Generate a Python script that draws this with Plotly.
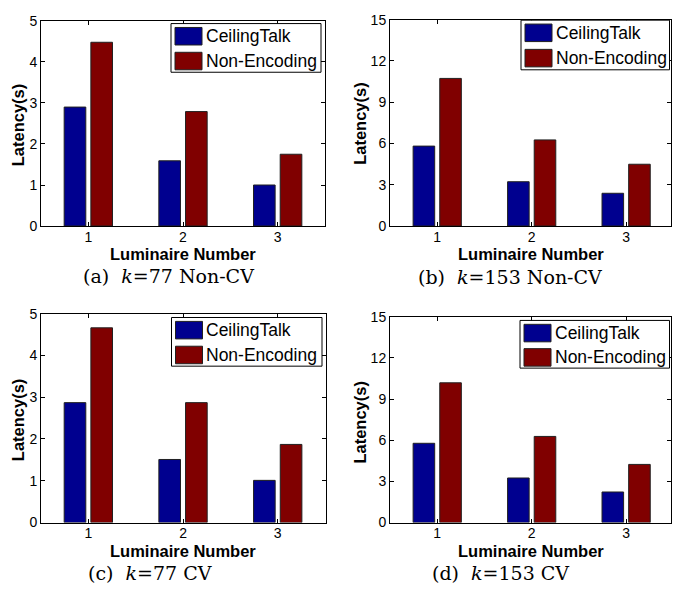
import plotly.graph_objects as go

W, H = 673, 599

luminaires = [1, 2, 3]
series_names = ["CeilingTalk", "Non-Encoding"]
series_colors = ["#00008F", "#800000"]

ct_a = [2.90, 1.59, 1.00]
ne_a = [4.48, 2.79, 1.75]
ct_b = [5.81, 3.22, 2.38]
ne_b = [10.73, 6.26, 4.49]
ct_c = [2.87, 1.51, 1.01]
ne_c = [4.66, 2.87, 1.87]
ct_d = [5.78, 3.25, 2.23]
ne_d = [10.19, 6.28, 4.24]

panel_data = [(ct_a, ne_a), (ct_b, ne_b), (ct_c, ne_c), (ct_d, ne_d)]
captions = ["(a)  <i>k</i>=77 Non-CV", "(b)  <i>k</i>=153 Non-CV",
            "(c)  <i>k</i>=77 CV", "(d)  <i>k</i>=153 CV"]
y_max = [5, 15, 5, 15]
y_ticks = [[0, 1, 2, 3, 4, 5], [0, 3, 6, 9, 12, 15],
           [0, 1, 2, 3, 4, 5], [0, 3, 6, 9, 12, 15]]
x_title = "Luminaire Number"
y_title = "Latency(s)"

# layout geometry (pixels)
px_x = [(41, 325), (390, 671), (41, 326), (390, 671)]
px_y = [(13.3, 224), (12, 224), (314, 528.7), (317.3, 528.7)]
x_ranges = [[0.5, 3.5], [0.5, 3.475], [0.5, 3.51], [0.5, 3.475]]
legend_box = [(171, 16, 321, 66), (521, 12.5, 669.5, 63.5),
              (171.5, 318, 322, 368), (520, 321, 669.5, 370)]
ytitle_pos = [(17.5, 120), (360, 119), (17.5, 423), (360, 426)]
xtitle_pos = [(183, 253), (531, 253), (183, 557.5), (531, 557.5)]
caption_pos = [(168, 275), (510, 276), (150, 580), (500, 580)]

fig = go.Figure()
font_sans = "Liberation Sans, Arial, sans-serif"

def px2paper(x, y):
    return x / W, 1 - y / H

for i, (ct, ne) in enumerate(panel_data):
    sfx = "" if i == 0 else str(i + 1)
    for name, vals, col in zip(series_names, (ct, ne), series_colors):
        fig.add_trace(go.Bar(
            x=luminaires, y=vals, name=name, showlegend=False,
            marker=dict(color=col, line=dict(color="#202020", width=1)),
            xaxis="x" + sfx, yaxis="y" + sfx,
        ))
    x0, x1 = px_x[i]
    y0, y1 = px_y[i]
    axcommon = dict(showline=True, linecolor="black", linewidth=1, mirror="ticks",
                    ticks="inside", ticklen=4, tickcolor="black", showgrid=False,
                    zeroline=False, tickfont=dict(family=font_sans, size=14, color="black"))
    xa = dict(domain=[x0 / W, x1 / W], range=x_ranges[i], tickvals=luminaires,
              anchor="y" + sfx, **axcommon)
    try:
        fig.layout["xaxis" + sfx] = dict(xa, ticklabelstandoff=-2)
    except Exception:
        fig.layout["xaxis" + sfx] = xa
    fig.layout["yaxis" + sfx] = dict(
        domain=[1 - y1 / H, 1 - y0 / H], range=[0, y_max[i]], tickvals=y_ticks[i],
        anchor="x" + sfx, **axcommon)

    # axis titles
    tx, ty = px2paper(*xtitle_pos[i])
    fig.add_annotation(text=f"<b>{x_title}</b>", x=tx, y=ty, xref="paper", yref="paper",
                       xanchor="center", yanchor="middle", showarrow=False,
                       font=dict(family=font_sans, size=16.5, color="black"))
    tx, ty = px2paper(*ytitle_pos[i])
    fig.add_annotation(text=f"<b>{y_title}</b>", x=tx, y=ty, xref="paper", yref="paper",
                       xanchor="center", yanchor="middle", showarrow=False, textangle=-90,
                       font=dict(family=font_sans, size=16.5, color="black"))

    # legend box (MATLAB style)
    bl, bt, br, bb = legend_box[i]
    fig.add_shape(type="rect", xref="paper", yref="paper",
                  x0=bl / W, x1=br / W, y0=1 - bb / H, y1=1 - bt / H,
                  line=dict(color="black", width=1), fillcolor="white", layer="above")
    row_h = (bb - bt) / 2
    for r, (name, col) in enumerate(zip(series_names, series_colors)):
        sy0 = bt + 4 + r * (row_h + 0.5)
        sy1 = sy0 + 18
        fig.add_shape(type="rect", xref="paper", yref="paper",
                      x0=(bl + 4) / W, x1=(bl + 31) / W, y0=1 - sy1 / H, y1=1 - sy0 / H,
                      line=dict(color="#202020", width=1), fillcolor=col, layer="above")
        lx, ly = px2paper(bl + 32.5, (sy0 + sy1) / 2)
        fig.add_annotation(text=name, x=lx, y=ly, xref="paper", yref="paper",
                           xanchor="left", yanchor="middle", showarrow=False,
                           font=dict(family=font_sans, size=17.5, color="black"))

    cx, cy = px2paper(*caption_pos[i])
    fig.add_annotation(
        text=captions[i], x=cx, y=cy, xref="paper", yref="paper",
        xanchor="center", yanchor="middle", showarrow=False,
        font=dict(family="DejaVu Serif, serif", size=19, color="black"),
    )

fig.update_layout(
    width=W, height=H, margin=dict(l=0, r=0, t=0, b=0),
    paper_bgcolor="white", plot_bgcolor="white",
    barmode="group", bargap=0.436, bargroupgap=0.19,
)

fig.write_html("out.html", config={"displayModeBar": False},
               post_script="document.body.style.margin='0';")
